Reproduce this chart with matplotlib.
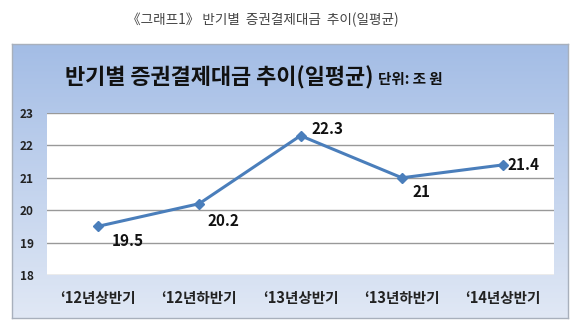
import numpy as np
import matplotlib
matplotlib.use("Agg")
import matplotlib.pyplot as plt

plt.rcParams['font.family'] = ['Noto Sans CJK KR', 'DejaVu Sans']

# 반기별 증권결제대금 (일평균, 조 원)
periods = ["‘12년상반기", "‘12년하반기", "‘13년상반기", "‘13년하반기", "‘14년상반기"]
amounts = [19.5, 20.2, 22.3, 21, 21.4]
value_labels = ["19.5", "20.2", "22.3", "21", "21.4"]
label_offsets = [(10, -10.5), (6, -12.5), (8, 4.5), (7.5, -10.5), (3, 0)]
yticks = [18, 19, 20, 21, 22, 23]

W, H = 580, 326
fig = plt.figure(figsize=(W / 100, H / 100), dpi=100)

def box(x0, y0, x1, y1):
    # pixel box (top-left origin) -> figure fraction rect
    return [x0 / W, 1 - y1 / H, (x1 - x0) / W, (y1 - y0) / H]

# blue gradient panel behind the chart
bg = fig.add_axes(box(12, 44, 568, 318))
grad = np.linspace(0, 1, 256).reshape(-1, 1)
top = np.array([0.64, 0.74, 0.90])
bottom = np.array([0.88, 0.91, 0.96])
img = top + (bottom - top) * grad[..., None]
bg.imshow(img.reshape(256, 1, 3), aspect='auto', extent=[0, 1, 0, 1])
bg.set_xlim(0, 1)
bg.set_ylim(0, 1)
bg.set_xticks([])
bg.set_yticks([])
for s in bg.spines.values():
    s.set_color('#a8b0bc')
    s.set_linewidth(1.0)

fig.text(263 / W, 1 - 20 / H, "《그래프1》 반기별  증권결제대금  추이(일평균)",
         ha='center', va='center', fontsize=9.8, color='#444444')
fig.text(65 / W, 1 - 78 / H, "반기별 증권결제대금 추이(일평균)",
         ha='left', va='center', fontsize=15.8, fontweight='bold', color='#111111')
fig.text(378 / W, 1 - 79 / H, "단위: 조 원",
         ha='left', va='center', fontsize=10.5, fontweight='bold', color='#111111')

ax = fig.add_axes(box(47, 113, 554, 275))
ax.set_facecolor('white')
x = np.arange(len(periods))
ax.plot(x, amounts, color='#4a7ebb', linewidth=2.2, marker='D',
        markersize=5, markerfacecolor='#4a7ebb', markeredgecolor='#4a7ebb', zorder=3)

for xi, yi, txt, off in zip(x, amounts, value_labels, label_offsets):
    ax.annotate(txt, (xi, yi), xytext=off, textcoords='offset points',
                ha='left', va='center', fontsize=11, fontweight='bold', color='#111111')

ax.set_xlim(-0.5, len(periods) - 0.5)
ax.set_ylim(18, 23)
ax.set_yticks(yticks)
ax.set_yticklabels([str(v) for v in yticks], fontsize=8.5, fontweight='bold', color='#222222')
ax.set_xticks(x)
ax.set_xticklabels(periods, fontsize=10.5, fontweight='bold', color='#222222')
ax.tick_params(axis='both', length=0)
ax.tick_params(axis='x', pad=11)
ax.tick_params(axis='y', pad=19.5)
for lbl in ax.get_yticklabels():
    lbl.set_horizontalalignment('left')
ax.yaxis.grid(True, color='#999999', linewidth=1.0)
ax.set_axisbelow(True)
for s in ax.spines.values():
    s.set_visible(False)

fig.savefig("out.png", dpi=100)
